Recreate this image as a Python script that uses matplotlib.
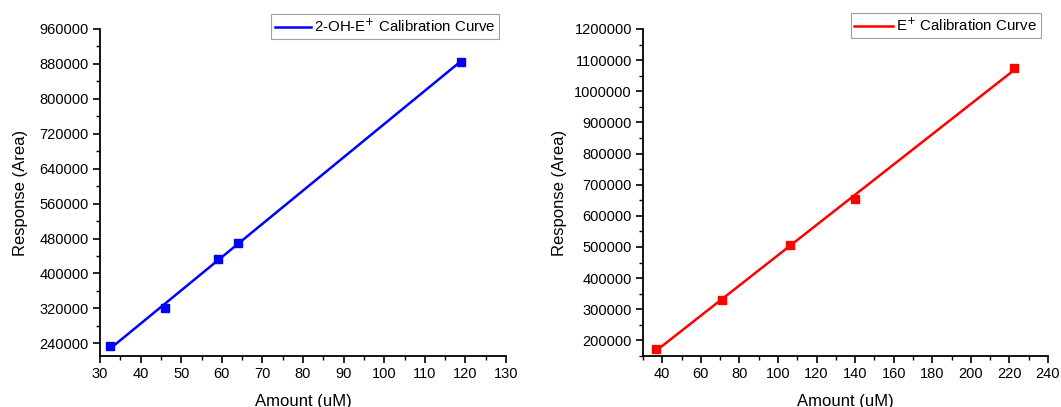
import numpy as np
import matplotlib
matplotlib.use("Agg")
import matplotlib.pyplot as plt
from matplotlib.ticker import MultipleLocator, FormatStrFormatter

plt.rcParams['font.family'] = ['Liberation Sans', 'DejaVu Sans']

# Left chart: 2-OH-E+
oh_amount = [32.5, 46.0, 59.0, 64.0, 118.8]
oh_response = [233000, 321000, 432500, 470000, 885500]
# Right chart: E+
e_amount = [36.5, 71.0, 106.0, 140.0, 222.5]
e_response = [173300, 328500, 506000, 654000, 1076000]

fig = plt.figure(figsize=(10.61, 4.07), dpi=100)
W, H = 1061, 407

def make_ax(l, r, t, b):
    return fig.add_axes([l / W, 1 - b / H, (r - l) / W, (b - t) / H])

def style(ax, xmaj, xmin, ymaj, ymin, ypad):
    for s in ['top', 'right']:
        ax.spines[s].set_visible(False)
    for s in ['left', 'bottom']:
        ax.spines[s].set_linewidth(1.3)
    ax.xaxis.set_major_locator(MultipleLocator(xmaj))
    ax.xaxis.set_minor_locator(MultipleLocator(xmin))
    ax.yaxis.set_major_locator(MultipleLocator(ymaj))
    ax.yaxis.set_minor_locator(MultipleLocator(ymin))
    ax.yaxis.set_major_formatter(FormatStrFormatter('%d'))
    ax.tick_params(which='major', direction='out', length=5, width=1.2, labelsize=10.5,
                   colors='black', pad=3)
    ax.tick_params(which='minor', direction='out', length=3, width=1.0)
    ax.set_xlabel('Amount (uM)', fontsize=12, labelpad=9)
    ax.set_ylabel('Response (Area)', fontsize=12, labelpad=ypad)

def draw(ax, x, y, color, label):
    x = np.asarray(x, float)
    y = np.asarray(y, float)
    k, c = np.polyfit(x, y, 1)
    xs = np.array([x.min(), x.max()])
    ax.plot(xs, k * xs + c, color=color, lw=1.8, label=label, clip_on=False)
    ax.plot(x, y, 's', color=color, ms=6, clip_on=False)

def legend(ax, right, top, hl):
    leg = ax.legend(loc='upper right', bbox_to_anchor=(right / W, 1 - top / H),
                    bbox_transform=fig.transFigure, fontsize=10.8, frameon=True,
                    fancybox=False, edgecolor='#888888', handlelength=hl,
                    borderpad=0.25, handletextpad=0.2, borderaxespad=0)
    leg.get_frame().set_linewidth(0.8)

ax1 = make_ax(100, 506, 29, 356)
draw(ax1, oh_amount, oh_response, '#0000ff', r'2-OH-E$^{+}$ Calibration Curve')
ax1.set_xlim(30, 130)
ax1.set_ylim(211000, 960000)
style(ax1, 10, 5, 80000, 40000, 8)
legend(ax1, 499, 14, 2.4)

ax2 = make_ax(643, 1048, 29, 356)
draw(ax2, e_amount, e_response, '#ff0000', r'E$^{+}$ Calibration Curve')
ax2.set_xlim(30, 240)
ax2.set_ylim(150000, 1200000)
style(ax2, 20, 10, 100000, 50000, 5)
legend(ax2, 1041, 13, 2.6)

fig.savefig('out.png', dpi=100)
